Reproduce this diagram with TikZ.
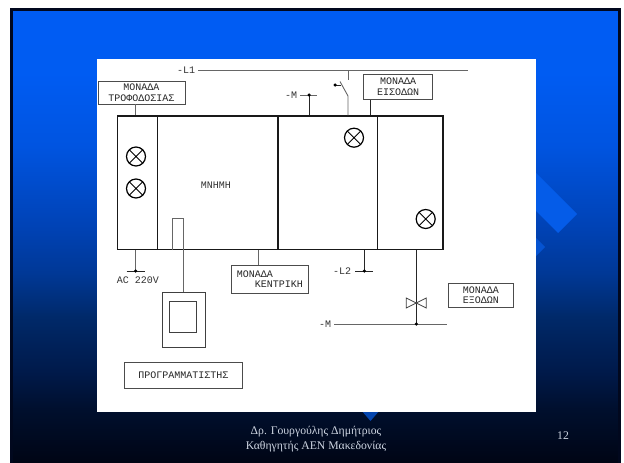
\documentclass[tikz,border=0pt]{standalone}
\usepackage{fontspec}
\setmainfont{Liberation Serif}
\newfontfamily\plcfont{Liberation Mono}
\usetikzlibrary{calc}
\definecolor{framenavy}{RGB}{1,8,30}
\definecolor{diamondblue}{RGB}{5,92,232}
\definecolor{footgray}{RGB}{205,212,225}
\pgfdeclareverticalshading{slidefill}{100bp}{
  rgb(0bp)=(0,0.02,0.08);
  rgb(25bp)=(0,0.02,0.08);
  rgb(31bp)=(0,0.06,0.18);
  rgb(35bp)=(0,0.10,0.29);
  rgb(41bp)=(0,0.16,0.41);
  rgb(46bp)=(0,0.22,0.59);
  rgb(51bp)=(0,0.26,0.71);
  rgb(60bp)=(0,0.33,0.88);
  rgb(68bp)=(0,0.36,0.95);
  rgb(100bp)=(0,0.36,0.96)}
\tikzset{
  labelbox/.style={draw=black!70, line width=0.8pt, fill=white, inner sep=0pt, align=center, text=black!85,
    font=\plcfont\fontsize{10}{10.7}\selectfont},
  plctext/.style={text=black!80, inner sep=0pt, font=\plcfont\fontsize{10}{10.7}\selectfont},
  panelbox/.style={draw=black!90, line width=1.4pt, minimum height=133.3pt, inner sep=0pt},
  lamp/.style={circle, draw=black, line width=1.2pt, fill=white, minimum size=19pt, inner sep=0pt,
    path picture={\draw[line width=0.8pt] (path picture bounding box.north west) -- (path picture bounding box.south east)
      (path picture bounding box.north east) -- (path picture bounding box.south west);}},
  wire/.style={draw=black!60, line width=0.9pt},
  darkwire/.style={draw=black!85, line width=0.8pt},
  junction/.style={circle, fill=black, inner sep=0pt, minimum size=3.5pt},
  plainbox/.style={draw=black!75, line width=0.8pt, inner sep=0pt}
}
\begin{document}
\begin{tikzpicture}[x=1pt,y=-1pt]
\useasboundingbox (0,0) rectangle (624,463);
\fill[white] (0,0) rectangle (624,463);
% slide background
\path[shading=slidefill] (11.5,9.5) rectangle (619,463);
\fill[diamondblue] (577,214) -- (558,233) -- (500,175) -- (519,156) -- cycle;
\fill[diamondblue!90!black] (545,247) -- (536,256) -- (526,247) -- (536,238) -- cycle;
\fill[diamondblue!75!black] (361,410) -- (380,410) -- (370.5,421) -- cycle;
\draw[framenavy, line width=3pt] (11.5,9.5) rectangle (619,464);
\fill[white] (97,59) rectangle (536,412);
% main rack
\node[panelbox, minimum width=39.6pt] (trofo) at (137.5,182.65) {};
\node[panelbox, minimum width=120.7pt] (mnimi) at (217.65,182.65) {};
\node[panelbox, minimum width=99.7pt] (kentriki) at (327.85,182.65) {};
\node[panelbox, minimum width=65.3pt] (exodoi) at (410.35,182.65) {};
\node[plctext] (mnimitext) at (216,185) {ΜΝΗΜΗ};
\node[lamp] (lampa) at (136,156.5) {};
\node[lamp] (lampb) at (136,188.5) {};
\node[lamp] (lampc) at (354,137.7) {};
\node[lamp] (lampd) at (425.7,219) {};
% labels
\node[labelbox, minimum width=87pt, minimum height=23pt] (trofobox) at (141.5,92.5) {ΜΟΝΑΔΑ\\ΤΡΟΦΟΔΟΣΙΑΣ};
\node[labelbox, minimum width=69.2pt, minimum height=25.3pt] (eisodoibox) at (398.1,86.7) {ΜΟΝΑΔΑ\\ΕΙΣΟΔΩΝ};
\node[labelbox, minimum width=77.7pt, minimum height=28pt, align=left] (kentrikibox) at (269.85,279.3) {ΜΟΝΑΔΑ\\\ \ \ ΚΕΝΤΡΙΚΗ};
\node[labelbox, minimum width=65pt, minimum height=24.3pt] (exodoibox) at (480.8,295.2) {ΜΟΝΑΔΑ\\ΕΞΟΔΩΝ};
\node[labelbox, minimum width=118pt, minimum height=25.6pt] (progbox) at (183.3,375.5) {ΠΡΟΓΡΑΜΜΑΤΙΣΤΗΣ};
\node[plctext] (ltext) at (186,70.7) {-L1};
\node[plctext] (mtext) at (291,95) {-M};
\node[plctext] (ltwotext) at (342,271.5) {-L2};
\node[plctext] (mlowtext) at (325,324) {-M};
\node[plctext] (actext) at (138,280.5) {AC 220V};
% upper wires
\coordinate (lineend) at (468,70);
\coordinate (mdot) at (309,95);
\coordinate (mend) at (317,95);
\coordinate (swtop) at (348,80);
\coordinate (swbot) at (348,96);
\coordinate (swblade) at (340,81.5);
\coordinate (swdot) at (335,85);
\draw[wire] (ltext.east) ++(3,-0.7) -- (lineend);
\draw[wire] (mtext.east) ++(3,0) -- (mend);
\draw[darkwire] (mdot) -- (mdot |- kentriki.north);
\node[junction] at (mdot) {};
\draw[wire] (swtop |- lineend) -- (swtop);
\draw[wire] (swblade) -- (swbot) -- (swbot |- kentriki.north);
\draw[darkwire] (swdot) -- ($(swdot)+(6,0)$);
\node[junction] at (swdot) {};
\draw[darkwire] (eisodoibox.south -| 370,0) -- (370,0 |- kentriki.north);
\draw[wire] (trofobox.south -| 135,0) -- (135,0 |- trofo.north);
% lower wires
\coordinate (acdot) at (135.7,271);
\coordinate (ldot) at (364.3,271);
\coordinate (outdot) at (416.3,324);
\coordinate (valve) at (416.3,303);
\coordinate (mlowend) at (447.3,324);
\draw[wire] (acdot |- trofo.south) -- (acdot);
\draw[darkwire] ($(acdot)+(-9,0)$) -- ($(acdot)+(9,0)$);
\node[junction] at (acdot) {};
\draw[darkwire] (ldot |- kentriki.south) -- (ldot);
\draw[darkwire] ($(ldot)+(-9,0)$) -- ($(ldot)+(9,0)$);
\node[junction] at (ldot) {};
\draw[wire] (258.3,0 |- mnimi.south) -- (258.3,0 |- kentrikibox.north);
\draw[darkwire] (outdot |- exodoi.south) -- (outdot);
\draw[wire] (mlowtext.east) ++(3,0) -- (mlowend);
\node[junction] at (outdot) {};
\draw[plainbox, fill=white] (valve) -- ++(-10,-5) -- ++(0,10) -- cycle;
\draw[plainbox, fill=white] (valve) -- ++(10,-5) -- ++(0,10) -- cycle;
% programmer
\node[plainbox, minimum width=42.7pt, minimum height=55.3pt] (prog) at (183.65,319.65) {};
\node[plainbox, minimum width=27.7pt, minimum height=31pt] (progscreen) at (182.85,316.8) {};
\coordinate (slotright) at (183.7,218.7);
\draw[wire] (172.3,0 |- mnimi.south) -- (172.3,218.7) -- (slotright) -- (slotright |- prog.north);
% footer
\node[text=footgray, align=center, font=\fontsize{11.7}{14.7}\selectfont] (footer) at (316,439.3) {Δρ. Γουργούλης Δημήτριος\\Καθηγητής ΑΕΝ Μακεδονίας};
\node[text=footgray, font=\fontsize{11.7}{12}\selectfont] (pagenum) at (563,436) {12};
\end{tikzpicture}
\end{document}
